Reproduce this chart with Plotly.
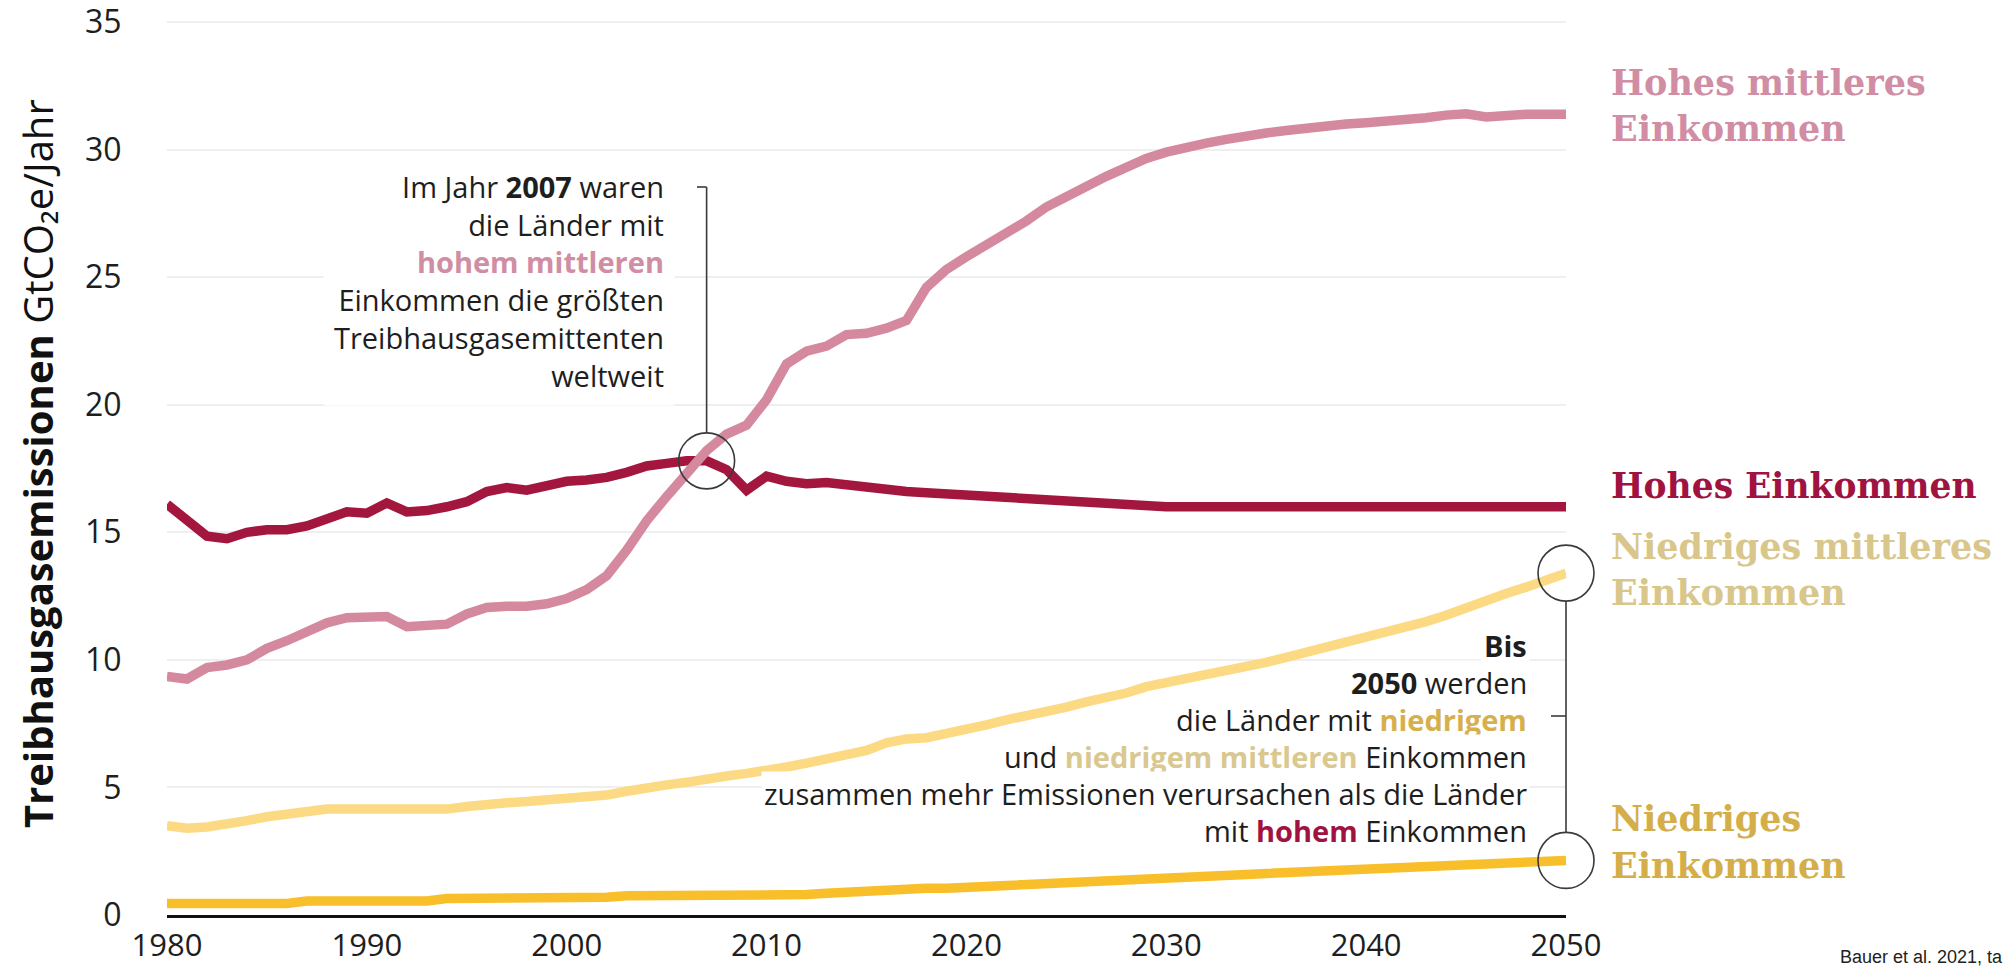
import plotly.graph_objects as go

# ---------------- data ----------------
years = list(range(1980, 2051))

high_income = [16.1, 15.5, 14.85, 14.75, 15.0, 15.1, 15.1, 15.25, 15.55, 15.8,
               15.75, 16.15, 15.8, 15.85, 16.0, 16.2, 16.6, 16.75, 16.65, 16.8,
               17.0, 17.05, 17.15, 17.35, 17.6, 17.7, 17.8, 17.8, 17.45, 16.65,
               17.2, 17.0, 16.9, 16.95, 16.85, 16.75, 16.65, 16.6, 16.55, 16.5,
               16.45, 16.4, 16.35, 16.3, 16.25, 16.2, 16.15, 16.1, 16.1, 16.05,
               16.0, 16.0, 16.0, 16.0, 16.0, 16.0, 16.0, 16.0, 16.0, 16.0,
               16.0, 16.0, 16.0, 16.0, 16.0, 16.0, 16.0, 16.0, 16.0, 16.0, 16.0]

upper_middle = [9.35, 9.25, 9.7, 9.8, 10.0, 10.45, 10.75, 11.1, 11.45, 11.65,
                11.7, 11.7, 11.3, 11.35, 11.4, 11.8, 12.05, 12.1, 12.1, 12.2,
                12.4, 12.75, 13.3, 14.3, 15.45, 16.4, 17.3, 18.2, 18.85, 19.2,
                20.2, 21.6, 22.1, 22.3, 22.75, 22.8, 23.0, 23.3, 24.6, 25.3,
                25.8, 26.25, 26.7, 27.2, 27.75, 28.2, 28.55, 28.95, 29.35, 29.65,
                29.9, 30.1, 30.25, 30.4, 30.55, 30.65, 30.75, 30.85, 30.9, 31.0,
                31.05, 31.1, 31.15, 31.25, 31.35, 31.4, 31.28, 31.35, 31.38, 31.38, 31.38]

lower_middle = [3.5, 3.4, 3.45, 3.55, 3.7, 3.85, 3.95, 4.0, 4.15, 4.15,
                4.15, 4.15, 4.15, 4.15, 4.15, 4.25, 4.35, 4.4, 4.45, 4.5,
                4.55, 4.6, 4.7, 4.85, 5.0, 5.1, 5.2, 5.35, 5.45, 5.55,
                5.65, 5.8, 5.95, 6.1, 6.25, 6.45, 6.75, 6.9, 6.95, 7.1,
                7.3, 7.45, 7.65, 7.8, 7.95, 8.15, 8.35, 8.5, 8.7, 8.95,
                9.1, 9.3, 9.45, 9.55, 9.75, 9.9, 10.1, 10.3, 10.45, 10.65,
                10.85, 11.05, 11.3, 11.5, 11.75, 12.05, 12.3, 12.6, 12.85, 13.1, 13.4]

low_income = [0.45, 0.45, 0.45, 0.45, 0.45, 0.45, 0.45, 0.55, 0.55, 0.55,
              0.55, 0.55, 0.55, 0.55, 0.65, 0.65, 0.65, 0.65, 0.65, 0.65,
              0.65, 0.65, 0.7, 0.75, 0.75, 0.75, 0.75, 0.75, 0.8, 0.8,
              0.8, 0.8, 0.8, 0.85, 0.9, 0.95, 1.0, 1.05, 1.05, 1.05,
              1.08, 1.12, 1.16, 1.2, 1.24, 1.27, 1.3, 1.33, 1.37, 1.41,
              1.45, 1.49, 1.52, 1.55, 1.59, 1.63, 1.67, 1.71, 1.74, 1.77,
              1.8, 1.84, 1.87, 1.9, 1.93, 1.96, 2.0, 2.03, 2.06, 2.1, 2.14]

y_ticks = [0, 5, 10, 15, 20, 25, 30, 35]
x_ticks = [1980, 1990, 2000, 2010, 2020, 2030, 2040, 2050]

# ---------------- style ----------------
W, H = 2009, 967
L, R, T, B = 167, 443, 19, 52
PW, PH = W - L - R, H - T - B
UNIT = 893 / 35.0                 # px per GtCO2e (0 at y=915, 35 at y=22)
Y_TOP = PH / UNIT                 # small headroom above 35 so its tick/grid is kept

C_HIGH = "#A3173F"
C_UPPER = "#D4899F"
C_LMID = "#FCDA84"
C_LOW = "#F8BF2B"
LBL_HIGH = "#A0123F"
LBL_UPPER = "#D18DA4"
LBL_LMID = "#D8C68A"
LBL_LOW = "#D4AE48"
SANS = "Open Sans"
SERIF = "DejaVu Serif"
TXT = "#1e1e1e"


def px(xpix):
    return (xpix - L) / PW


def py(ypix):
    return (H - B - ypix) / PH


def xp(year):
    return (year - x_ticks[0]) / (x_ticks[-1] - x_ticks[0])


def yp(val):
    return val / Y_TOP


fig = go.Figure()
for vals, col, name in [(high_income, C_HIGH, "Hohes Einkommen"),
                        (upper_middle, C_UPPER, "Hohes mittleres Einkommen"),
                        (lower_middle, C_LMID, "Niedriges mittleres Einkommen"),
                        (low_income, C_LOW, "Niedriges Einkommen")]:
    fig.add_trace(go.Scatter(x=years, y=vals, mode="lines", name=name,
                             line=dict(color=col, width=9.5), hoverinfo="skip"))

ann = []
# y-axis title
ann.append(dict(xref="paper", yref="paper", x=px(37), y=py(464), xanchor="center", yanchor="middle",
                textangle=-90, showarrow=False,
                text="<b>Treibhausgasemissionen</b> GtCO₂e/Jahr",
                font=dict(family=SANS, size=40, color="#111111")))

# left note
ann.append(dict(xref="paper", yref="paper", x=px(675), y=py(281), xanchor="right", yanchor="middle",
                align="right", showarrow=False, bgcolor="white", borderpad=10,
                text=("Im Jahr <b>2007</b> waren<br>die Länder mit<br>"
                      f"<span style='color:{LBL_UPPER}'><b>hohem mittleren</b></span><br>"
                      "Einkommen die größten<br>Treibhausgasemittenten<br>weltweit"),
                font=dict(family=SANS, size=29, color=TXT)))

# right note, one line each
right_lines = [
    ("<b>Bis</b>", 645),
    ("<b>2050</b> werden", 682),
    ("die Länder mit <span style='color:#D6B04D'><b>niedrigem</b></span>", 719),
    ("und <span style='color:#D9C88F'><b>niedrigem mittleren</b></span> Einkommen", 756),
    ("zusammen mehr Emissionen verursachen als die Länder", 793),
    (f"mit <span style='color:{LBL_HIGH}'><b>hohem</b></span> Einkommen", 830),
]
for txt, yy in right_lines:
    ann.append(dict(xref="paper", yref="paper", x=px(1530), y=py(yy), xanchor="right", yanchor="middle",
                    align="right", showarrow=False, bgcolor="white", borderpad=2, text=txt,
                    font=dict(family=SANS, size=29, color=TXT)))

# series labels
series_labels = [
    ("Hohes mittleres", 82, LBL_UPPER, 35),
    ("Einkommen", 129, LBL_UPPER, 35),
    ("Hohes Einkommen", 486, LBL_HIGH, 34.5),
    ("Niedriges mittleres", 546, LBL_LMID, 35),
    ("Einkommen", 592, LBL_LMID, 35),
    ("Niedriges", 818, LBL_LOW, 35),
    ("Einkommen", 865, LBL_LOW, 35),
]
for txt, yy, col, size in series_labels:
    ann.append(dict(xref="paper", yref="paper", x=px(1609), y=py(yy), xanchor="left", yanchor="middle",
                    showarrow=False, text=f"<b>{txt}</b>",
                    font=dict(family=SERIF, size=size, color=col)))

# source
ann.append(dict(xref="paper", yref="paper", x=px(1838), y=py(945), xanchor="left", yanchor="top",
                showarrow=False, text="Bauer et al. 2021, ta",
                font=dict(family="Liberation Sans", size=18, color="#222222")))

# ---------------- shapes: circles & brackets ----------------
RX, RY = 28 / PW, 28 / PH
LINEC = dict(color="#3a3a3a", width=1.6)
shapes = []
i07 = years.index(2007)
circles = [(2007, high_income[i07]), (years[-1], lower_middle[-1]), (years[-1], low_income[-1])]
for yr, v in circles:
    cx, cy = xp(yr), yp(v)
    shapes.append(dict(type="circle", xref="paper", yref="paper",
                       x0=cx - RX, x1=cx + RX, y0=cy - RY, y1=cy + RY, line=LINEC))

# left bracket
cx0, cy0 = xp(2007), yp(high_income[i07])
shapes.append(dict(type="line", xref="paper", yref="paper", x0=px(697), x1=cx0, y0=py(187), y1=py(187), line=LINEC))
shapes.append(dict(type="line", xref="paper", yref="paper", x0=cx0, x1=cx0, y0=py(187), y1=cy0 + RY, line=LINEC))
# right bracket
cxe = xp(years[-1])
shapes.append(dict(type="line", xref="paper", yref="paper", x0=cxe, x1=cxe,
                   y0=yp(lower_middle[-1]) - RY, y1=yp(low_income[-1]) + RY, line=LINEC))
shapes.append(dict(type="line", xref="paper", yref="paper", x0=px(1551), x1=cxe, y0=py(716), y1=py(716), line=LINEC))

fig.update_layout(
    width=W, height=H, margin=dict(l=L, r=R, t=T, b=B),
    paper_bgcolor="white", plot_bgcolor="white", showlegend=False,
    annotations=ann, shapes=shapes, hovermode=False,
    xaxis=dict(range=[x_ticks[0], x_ticks[-1]], tickvals=x_ticks, showgrid=False, zeroline=False,
               showline=True, linecolor="#111111", linewidth=3, ticks="outside", ticklen=1,
               tickcolor="rgba(0,0,0,0)", automargin=False, ticklabeloverflow="allow",
               tickfont=dict(family=SANS, size=31, color=TXT)),
    yaxis=dict(range=[y_ticks[0], Y_TOP], tickvals=y_ticks, showgrid=True, gridcolor="#EFEFEF",
               gridwidth=2, zeroline=False, showline=False, ticks="outside", ticklen=38,
               tickcolor="rgba(0,0,0,0)", automargin=False, ticklabeloverflow="allow",
               tickfont=dict(family=SANS, size=32, color=TXT)),
)

fig.write_html("out.html", config={"displayModeBar": False, "staticPlot": True})
